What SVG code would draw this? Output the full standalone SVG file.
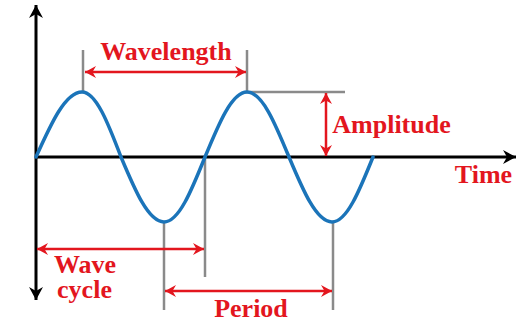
<svg xmlns="http://www.w3.org/2000/svg" width="518" height="322" viewBox="0 0 518 322">
  <style>
    text { font-family: 'Liberation Serif', 'Times New Roman', serif; font-weight: 700; font-size: 26px; fill: #e3161e; text-anchor: middle; }
    .axis { stroke: #000; stroke-width: 3; fill: none; }
    .guide { stroke: #8a8a8a; stroke-width: 2.5; fill: none; }
    .dim { stroke: #e3161e; stroke-width: 2.5; fill: none; }
    .wave { stroke: #1b74b9; stroke-width: 3.5; fill: none; stroke-linecap: round; }
  </style>
  <defs>
    <marker id="axHead" markerUnits="userSpaceOnUse" viewBox="-14 -8 16 16" refX="0" refY="0" markerWidth="16" markerHeight="16" orient="auto-start-reverse">
      <path d="M0,0 L-13,-7 L-9,0 L-13,7 Z" fill="#000"/>
    </marker>
    <marker id="redHead" markerUnits="userSpaceOnUse" viewBox="-12 -7 14 14" refX="0" refY="0" markerWidth="14" markerHeight="14" orient="auto-start-reverse">
      <path d="M0,0 L-11,-6 L-7.5,0 L-11,6 Z" fill="#e3161e"/>
    </marker>
  </defs>
  <rect width="518" height="322" fill="#fff"/>

  <g id="axes">
    <line class="axis" x1="36" y1="300" x2="36" y2="5" marker-start="url(#axHead)" marker-end="url(#axHead)"/>
    <line class="axis" x1="36" y1="157" x2="516" y2="157" marker-end="url(#axHead)"/>
  </g>

  <g id="guides">
    <line class="guide" x1="83" y1="50" x2="83" y2="92"/>
    <polyline class="guide" points="247,50 247,92 345,92"/>
    <line class="guide" x1="205" y1="157" x2="205" y2="277"/>
    <line class="guide" x1="164" y1="222" x2="164" y2="310"/>
    <line class="guide" x1="333" y1="222" x2="333" y2="310"/>
  </g>

  <g id="wave">
    <path class="wave" d="M36,157 C51,123.7 65.3,92 82,92 C96.1,92 108.3,123.7 121,157 C135,190.3 148.4,222 164,222 C178.8,222 191.6,190.3 205,157 C218.7,123.7 231.8,92 247,92 C262.2,92 275.3,123.7 289,157 C303,190.3 316.4,222 332,222 C346.8,222 359.6,190.3 373,157"/>
  </g>

  <g id="connectors">
    <line id="arrow-wavelength" class="dim" x1="85" y1="72" x2="246" y2="72" marker-start="url(#redHead)" marker-end="url(#redHead)"/>
    <line id="arrow-amplitude" class="dim" x1="326" y1="93" x2="326" y2="156" marker-start="url(#redHead)" marker-end="url(#redHead)"/>
    <line id="arrow-wavecycle" class="dim" x1="37" y1="249" x2="204" y2="249" marker-start="url(#redHead)" marker-end="url(#redHead)"/>
    <line id="arrow-period" class="dim" x1="165" y1="291" x2="332" y2="291" marker-start="url(#redHead)" marker-end="url(#redHead)"/>
  </g>

  <g id="label-wavelength"><text x="166" y="60">Wavelength</text></g>
  <g id="label-amplitude"><text x="391.5" y="133">Amplitude</text></g>
  <g id="label-time"><text x="483.5" y="183">Time</text></g>
  <g id="label-wavecycle">
    <text x="85" y="273">Wave</text>
    <text x="84.5" y="298">cycle</text>
  </g>
  <g id="label-period"><text x="251" y="317">Period</text></g>
</svg>
